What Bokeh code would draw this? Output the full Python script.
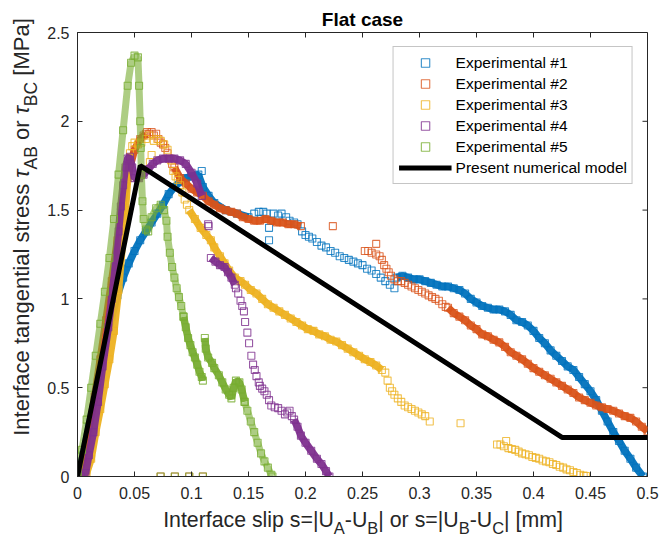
import math

from bokeh.embed import file_html
from bokeh.layouts import column, row
from bokeh.models import Div, FixedTicker, Legend, LegendItem, Range1d
from bokeh.plotting import figure
from bokeh.resources import INLINE

NAN = float("nan")

# ---------------------------------------------------------------- axes
X_TICKS = [0.0, 0.05, 0.1, 0.15, 0.2, 0.25, 0.3, 0.35, 0.4, 0.45, 0.5]
X_TICK_LABELS = ["0", "0.05", "0.1", "0.15", "0.2", "0.25", "0.3", "0.35", "0.4", "0.45", "0.5"]
Y_TICKS = [0.0, 0.5, 1.0, 1.5, 2.0, 2.5]
Y_TICK_LABELS = ["0", "0.5", "1", "1.5", "2", "2.5"]

TITLE = "Flat case"
SERIES_NAMES = ["Experimental #1", "Experimental #2", "Experimental #3",
                "Experimental #4", "Experimental #5"]
SERIES_COLORS = ["#0072BD", "#D95319", "#EDB120", "#7E2F8E", "#77AC30"]
MODEL_NAME = "Present numerical model"

# ---------------------------------------------------------------- data (slip [mm], stress [MPa])
# *_BAND   : densely sampled stretches (drawn as a solid trace of squares)
# *_LADDER : stretches where the stacked squares stay partly open
# *_PTS    : isolated squares
EXP1_BAND = [
    (0.000, 0.00), (0.005, 0.12), (0.010, 0.28), (0.015, 0.43), (0.020, 0.60), (0.025, 0.75),
    (0.030, 0.90), (0.035, 1.02), (0.040, 1.12), (0.045, 1.20), (0.050, 1.27), (0.055, 1.33),
    (0.060, 1.38), (0.065, 1.43), (0.070, 1.48), (0.075, 1.53), (0.080, 1.59), (0.085, 1.63),
    (0.090, 1.66), (0.095, 1.68), (0.100, 1.69), (0.106, 1.70), (0.110, 1.63), (0.115, 1.58),
    (0.120, 1.54), (0.130, 1.50), (0.140, 1.48), (0.150, 1.46), (NAN, NAN),
    (0.280, 1.12), (0.285, 1.13), (0.290, 1.12), (0.295, 1.11), (0.300, 1.11), (0.305, 1.10),
    (0.310, 1.09), (0.315, 1.08), (0.320, 1.07), (0.325, 1.07), (0.330, 1.06), (0.335, 1.05),
    (0.340, 1.03), (0.345, 1.00), (0.350, 0.98), (0.355, 0.96), (0.360, 0.95), (0.365, 0.94),
    (0.370, 0.94), (0.375, 0.93), (0.380, 0.91), (0.385, 0.88), (0.390, 0.87), (0.395, 0.85),
    (0.400, 0.82), (0.405, 0.78), (0.410, 0.75), (0.415, 0.71), (0.420, 0.68), (0.425, 0.65),
    (0.430, 0.62), (0.435, 0.60), (0.440, 0.56), (0.445, 0.52), (0.450, 0.48), (0.455, 0.43),
    (0.460, 0.37), (0.465, 0.31), (0.470, 0.25), (0.475, 0.20), (0.480, 0.145), (0.485, 0.10),
    (0.490, 0.05), (0.496, 0.00),
]
EXP1_LADDER = []
EXP1_PTS = [
    (0.109, 1.72), (0.155, 1.48), (0.159, 1.49), (0.163, 1.49), (0.166, 1.48), (0.168, 1.40),
    (0.168, 1.33), (0.172, 1.48), (0.176, 1.47), (0.179, 1.48), (0.183, 1.46), (0.186, 1.44),
    (0.190, 1.43), (0.193, 1.42), (0.197, 1.38), (0.200, 1.36), (0.203, 1.35), (0.206, 1.34),
    (0.210, 1.32), (0.214, 1.30), (0.218, 1.29), (0.222, 1.27), (0.226, 1.26), (0.230, 1.24),
    (0.234, 1.23), (0.238, 1.22), (0.242, 1.21), (0.246, 1.20), (0.250, 1.19), (0.254, 1.17),
    (0.258, 1.16), (0.262, 1.14), (0.266, 1.12), (0.270, 1.10), (0.274, 1.08), (0.278, 1.06),
]

EXP2_BAND = [
    (0.000, 0.00), (0.005, 0.08), (0.010, 0.25), (0.015, 0.45), (0.020, 0.66), (0.025, 0.88),
    (0.030, 1.10), (0.035, 1.33), (0.040, 1.55), (0.045, 1.72), (0.050, 1.84), (0.055, 1.90),
    (0.060, 1.93), (NAN, NAN),
    (0.085, 1.74), (0.090, 1.68), (0.095, 1.65), (0.100, 1.62), (0.105, 1.60), (0.110, 1.58),
    (0.115, 1.55), (0.120, 1.53), (0.125, 1.51), (0.130, 1.50), (0.135, 1.49), (0.140, 1.48),
    (0.145, 1.46), (0.150, 1.45), (0.155, 1.44), (0.160, 1.44), (0.165, 1.45), (0.170, 1.44),
    (0.175, 1.43), (0.180, 1.43), (0.185, 1.42), (0.190, 1.42), (0.196, 1.41), (NAN, NAN),
    (0.325, 0.95), (0.330, 0.92), (0.335, 0.90), (0.340, 0.88), (0.345, 0.85), (0.350, 0.83),
    (0.355, 0.80), (0.360, 0.79), (0.365, 0.77), (0.370, 0.755), (0.375, 0.73), (0.380, 0.70),
    (0.385, 0.68), (0.390, 0.66), (0.395, 0.635), (0.400, 0.61), (0.405, 0.59), (0.410, 0.57),
    (0.415, 0.55), (0.420, 0.53), (0.425, 0.51), (0.430, 0.49), (0.435, 0.47), (0.440, 0.445),
    (0.445, 0.43), (0.450, 0.415), (0.455, 0.40), (0.460, 0.39), (0.465, 0.38), (0.470, 0.37),
    (0.475, 0.355), (0.480, 0.34), (0.485, 0.33), (0.490, 0.31), (0.495, 0.28), (0.500, 0.255),
]
EXP2_LADDER = []
EXP2_PTS = [
    (0.058, 1.92), (0.061, 1.94), (0.063, 1.93), (0.065, 1.94), (0.067, 1.92), (0.069, 1.93),
    (0.071, 1.90), (0.073, 1.88), (0.075, 1.87), (0.077, 1.85), (0.079, 1.82), (0.081, 1.79),
    (0.083, 1.76), (0.224, 1.41), (0.252, 1.27), (0.255, 1.27), (0.258, 1.26), (0.262, 1.31),
    (0.262, 1.25), (0.265, 1.24), (0.267, 1.22), (0.269, 1.19), (0.271, 1.17), (0.273, 1.15),
    (0.275, 1.13), (0.278, 1.11), (0.281, 1.10), (0.284, 1.10), (0.287, 1.09), (0.290, 1.08),
    (0.293, 1.07), (0.296, 1.06), (0.299, 1.05), (0.302, 1.04), (0.305, 1.03), (0.308, 1.02),
    (0.311, 1.01), (0.314, 1.00), (0.317, 0.99), (0.320, 0.97), (0.323, 0.955),
    (0.0729, 0.0), (0.0854, 0.0), (0.098, 0.0), (0.110, 0.0),
]

EXP3_BAND = [
    (0.003, 0.00), (0.008, 0.02), (0.012, 0.10), (0.016, 0.25), (0.020, 0.38), (0.024, 0.52),
    (0.028, 0.66), (0.032, 0.82), (0.036, 1.05), (0.040, 1.36), (0.042, 1.50), (0.044, 1.68),
    (0.046, 1.82), (NAN, NAN),
    (0.098, 1.50), (0.103, 1.45), (0.108, 1.40), (0.113, 1.36), (0.117, 1.33), (0.120, 1.29),
    (0.125, 1.24), (0.129, 1.20), (0.133, 1.16), (0.138, 1.12), (0.143, 1.10), (0.147, 1.08),
    (0.152, 1.05), (0.157, 1.03), (0.162, 1.00), (0.167, 0.97), (0.172, 0.95), (0.177, 0.93),
    (0.182, 0.91), (0.187, 0.89), (0.192, 0.87), (0.197, 0.85), (0.202, 0.83), (0.207, 0.82),
    (0.212, 0.80), (0.217, 0.79), (0.222, 0.77), (0.227, 0.76), (0.232, 0.74), (0.237, 0.72),
    (0.242, 0.70), (0.247, 0.68), (0.252, 0.66), (0.257, 0.645), (0.262, 0.625), (0.267, 0.60),
]
EXP3_LADDER = []
EXP3_PTS = [
    (0.048, 1.86), (0.050, 1.88), (0.053, 1.87), (0.056, 1.88), (0.060, 1.90), (0.063, 1.92),
    (0.0635, 1.77), (0.065, 1.81), (0.067, 1.89), (0.070, 1.90), (0.073, 1.89), (0.076, 1.87),
    (0.079, 1.84), (0.082, 1.78), (0.084, 1.72), (0.086, 1.69), (0.088, 1.67), (0.090, 1.64),
    (0.092, 1.60), (0.094, 1.56), (0.096, 1.53),
    (0.270, 0.585), (0.272, 0.54), (0.274, 0.50), (0.276, 0.48), (0.278, 0.46), (0.281, 0.44),
    (0.284, 0.42), (0.287, 0.40), (0.290, 0.39), (0.293, 0.38), (0.296, 0.37), (0.299, 0.36),
    (0.302, 0.35), (0.305, 0.34), (0.309, 0.31), (0.336, 0.30),
    (0.368, 0.18), (0.371, 0.18), (0.374, 0.17), (0.376, 0.20), (0.378, 0.16), (0.381, 0.155),
    (0.384, 0.15), (0.387, 0.14), (0.390, 0.13), (0.393, 0.125), (0.396, 0.12), (0.399, 0.11),
    (0.402, 0.105), (0.405, 0.10), (0.408, 0.09), (0.411, 0.085), (0.414, 0.08), (0.417, 0.07),
    (0.420, 0.065), (0.423, 0.055), (0.426, 0.05), (0.429, 0.04), (0.432, 0.035), (0.435, 0.025),
    (0.438, 0.02), (0.441, 0.01), (0.444, 0.005), (0.446, 0.003),
]

EXP4_BAND = [
    (0.003, 0.00), (0.007, 0.02), (0.010, 0.12), (0.014, 0.25), (0.018, 0.42), (0.022, 0.62),
    (0.027, 0.84), (0.030, 1.00), (0.033, 1.18), (0.036, 1.38), (0.038, 1.52), (0.040, 1.64),
    (0.042, 1.74), (0.044, 1.79), (0.046, 1.80), (0.048, 1.74), (0.050, 1.68), (0.054, 1.68),
    (0.058, 1.70), (0.062, 1.73), (0.066, 1.76), (0.070, 1.78), (0.075, 1.79), (0.080, 1.79),
    (0.085, 1.79), (0.090, 1.78), (0.095, 1.76), (0.100, 1.71), (0.105, 1.65), (0.109, 1.58),
    (NAN, NAN),
    (0.117, 1.23), (0.121, 1.21), (0.125, 1.19), (0.129, 1.18), (0.132, 1.15), (0.135, 1.12),
    (0.138, 1.08), (NAN, NAN),
    (0.190, 0.32), (0.193, 0.28), (0.196, 0.23), (0.200, 0.19), (0.205, 0.145), (0.210, 0.10),
    (0.214, 0.07), (0.218, 0.03), (0.221, 0.00),
]
EXP4_LADDER = []
EXP4_PTS = [
    (0.1146, 1.42), (0.1150, 1.41), (0.139, 1.06), (0.141, 1.03), (0.143, 0.99), (0.1445, 0.96),
    (0.146, 0.93), (0.147, 0.87), (0.149, 0.81), (0.1505, 0.75), (0.1525, 0.68), (0.154, 0.63),
    (0.1555, 0.60), (0.157, 0.565), (0.159, 0.53), (0.160, 0.51), (0.162, 0.495), (0.164, 0.48),
    (0.166, 0.46), (0.168, 0.43), (0.170, 0.40), (0.173, 0.39), (0.176, 0.385), (0.179, 0.37),
    (0.182, 0.35), (0.184, 0.36), (0.186, 0.37), (0.188, 0.34),
]

EXP5_BAND = [
    (0.093, 0.90), (0.095, 0.84), (0.097, 0.78), (0.099, 0.74), (0.101, 0.70), (0.103, 0.67),
    (0.105, 0.63), (0.107, 0.59), (0.109, 0.56), (0.110, 0.54), (NAN, NAN),
    (0.1117, 0.78), (0.1125, 0.72), (0.1146, 0.67), (0.118, 0.64), (0.120, 0.61), (0.124, 0.57),
    (0.127, 0.53), (0.130, 0.49), (0.133, 0.46), (0.135, 0.44), (0.137, 0.50), (0.139, 0.54),
    (0.142, 0.53), (0.144, 0.49), (0.1466, 0.42),
]
EXP5_LADDER = [
    (0.000, 0.00), (0.004, 0.15), (0.008, 0.32), (0.012, 0.50), (0.016, 0.68), (0.020, 0.86),
    (0.024, 1.04), (0.028, 1.23), (0.032, 1.45), (0.036, 1.70), (0.040, 1.95), (0.044, 2.20),
    (0.047, 2.33), (0.050, 2.37), (0.053, 2.36), (0.054, 2.20), (0.055, 2.00), (0.0555, 1.85),
    (0.056, 1.70), (0.057, 1.55), (0.058, 1.45), (0.060, 1.39), (0.062, 1.38), (0.065, 1.46),
    (0.069, 1.51), (0.073, 1.53), (0.076, 1.50), (0.078, 1.44), (0.079, 1.35), (0.081, 1.26),
    (0.083, 1.18), (0.085, 1.12), (0.087, 1.06), (0.089, 1.01), (0.091, 0.96), (0.093, 0.90),
    (NAN, NAN),
    (0.1466, 0.42), (0.149, 0.37), (0.152, 0.31), (0.155, 0.25), (0.158, 0.19), (0.161, 0.13),
    (0.164, 0.085), (0.167, 0.05), (0.170, 0.01), (0.171, 0.00),
]
EXP5_PTS = [
    (0.000, 0.00), (0.0729, 0.0), (0.0854, 0.0), (0.098, 0.0), (0.110, 0.0),
]

MODEL_X = [0.0, 0.055, 0.425, 0.5]
MODEL_Y = [0.0, 1.75, 0.22, 0.22]

EXPERIMENTS = [
    (EXP1_BAND, EXP1_LADDER, EXP1_PTS),
    (EXP2_BAND, EXP2_LADDER, EXP2_PTS),
    (EXP3_BAND, EXP3_LADDER, EXP3_PTS),
    (EXP4_BAND, EXP4_LADDER, EXP4_PTS),
    (EXP5_BAND, EXP5_LADDER, EXP5_PTS),
]

# ---------------------------------------------------------------- styling / page geometry
FONT = "Liberation Sans"
AXIS_COLOR = "#262626"
PAGE_W, PAGE_H = 660, 538
FRAME_LEFT, FRAME_BOTTOM = 76, 476     # page position of the axes box corner
YLAB_W = 44                            # strip left of the figure holding the rotated y label
XLAB_H = 32                            # strip below the figure holding the x label
FIG_W, FIG_H = PAGE_W - YLAB_W, PAGE_H - XLAB_H

p = figure(width=FIG_W, height=FIG_H,
           x_range=Range1d(X_TICKS[0], X_TICKS[-1]), y_range=Range1d(Y_TICKS[0], Y_TICKS[-1]),
           output_backend="svg", toolbar_location=None,
           min_border_left=FRAME_LEFT - YLAB_W, min_border_right=13,
           min_border_top=32, min_border_bottom=FIG_H - FRAME_BOTTOM)
p.title.text = TITLE
p.title.align = "center"
p.title.text_font = FONT
p.title.text_font_size = "19px"
p.title.text_font_style = "bold"
p.title.text_color = "black"
p.title.standoff = 6
p.xgrid.visible = False
p.ygrid.visible = False
p.outline_line_color = AXIS_COLOR
p.outline_line_width = 1
p.outline_line_alpha = 1.0

for ax, ticks, labels in ((p.xaxis[0], X_TICKS, X_TICK_LABELS), (p.yaxis[0], Y_TICKS, Y_TICK_LABELS)):
    ax.ticker = FixedTicker(ticks=ticks)
    ax.major_label_overrides = {t: lab for t, lab in zip(ticks, labels)}
    ax.major_tick_in = 5
    ax.major_tick_out = 0
    ax.minor_tick_line_color = None
    ax.axis_line_color = AXIS_COLOR
    ax.major_tick_line_color = AXIS_COLOR
    ax.major_label_text_color = AXIS_COLOR
    ax.major_label_text_font = FONT
    ax.major_label_text_font_size = "16px"
p.xaxis.major_label_standoff = 10
p.yaxis.major_label_standoff = 8

# inward ticks on the top and right edges of the box
p.ray(x=X_TICKS, y=[Y_TICKS[-1]] * len(X_TICKS), length=5, length_units="screen",
      angle=-math.pi / 2, line_color=AXIS_COLOR, line_width=1)
p.ray(x=[X_TICKS[-1]] * len(Y_TICKS), y=Y_TICKS, length=5, length_units="screen",
      angle=math.pi, line_color=AXIS_COLOR, line_width=1)


def unzip(pairs):
    return [a for a, _ in pairs], [b for _, b in pairs]


def draw_series(band, ladder, pts, color):
    square = dict(marker="square", size=7, fill_color=None, line_color=color,
                  line_width=1.1, line_alpha=0.8)
    if ladder:
        lx, ly = unzip(ladder)
        p.line(lx, ly, line_color=color, line_width=7, line_alpha=0.6)
        p.scatter(lx, ly, **square)
    if band:
        bx, by = unzip(band)
        p.line(bx, by, line_color=color, line_width=7.5, line_alpha=0.95)
        p.scatter(bx, by, **square)
    px, py = unzip(pts)
    return p.scatter(px, py, **square)


items = []
for name, color, (band, ladder, pts) in zip(SERIES_NAMES, SERIES_COLORS, EXPERIMENTS):
    r = draw_series(band, ladder, pts, color)
    items.append(LegendItem(label=name, renderers=[r]))

model = p.line(MODEL_X, MODEL_Y, line_color="black", line_width=5)
items.append(LegendItem(label=MODEL_NAME, renderers=[model]))

legend = Legend(items=items, location="top_right", margin=14, padding=5, spacing=0,
                glyph_width=53, glyph_height=21, label_height=21, label_standoff=4,
                label_text_font=FONT, label_text_font_size="15.5px", label_text_color="black",
                border_line_color="#8c8c8c", border_line_width=1,
                background_fill_color="white", background_fill_alpha=1.0)
p.add_layout(legend)


# ---------------------------------------------------------------- axis labels with subscripts
def sub(t, size, drop):
    return f'<span style="font-size:{size}px;position:relative;top:{drop}px">{t}</span>'


def text_css(size):
    return (f"font-family:'{FONT}';font-size:{size}px;color:{AXIS_COLOR};"
            "line-height:24px;white-space:nowrap;box-sizing:border-box;")


XS, XSUB, XDROP = 21.3, 16.5, 7
x_html = ("Interface slip s=|U" + sub("A", XSUB, XDROP) + "-U" + sub("B", XSUB, XDROP)
          + "| or s=|U" + sub("B", XSUB, XDROP) + "-U" + sub("C", XSUB, XDROP) + "| [mm]")

YS, YSUB, YDROP = 22, 17.5, 8
y_html = ("Interface tangential stress <i>&tau;</i>" + sub("AB", YSUB, YDROP)
          + " or <i>&tau;</i>" + sub("BC", YSUB, YDROP) + " [MPa]")

# x label centred at page x = 363
x_div = Div(width=PAGE_W, height=XLAB_H, margin=0,
            text=(f'<div style="{text_css(XS)}width:{PAGE_W}px;text-align:center;'
                  f'padding-left:66px;padding-top:2px">{x_html}</div>'))

# y label rotated to read upwards, centred at page y = 227
y_div = Div(width=YLAB_W, height=FIG_H, margin=0,
            text=(f'<div style="{text_css(YS)}width:{FIG_H}px;height:{YLAB_W}px;text-align:center;'
                  f'padding-left:52px;padding-top:10px;transform-origin:0 0;'
                  f'transform:translate(0px,{FIG_H}px) rotate(-90deg)">{y_html}</div>'))

page = column(row(y_div, p, spacing=0), x_div, spacing=0)

open("out.html", "w").write(file_html(page, INLINE))
